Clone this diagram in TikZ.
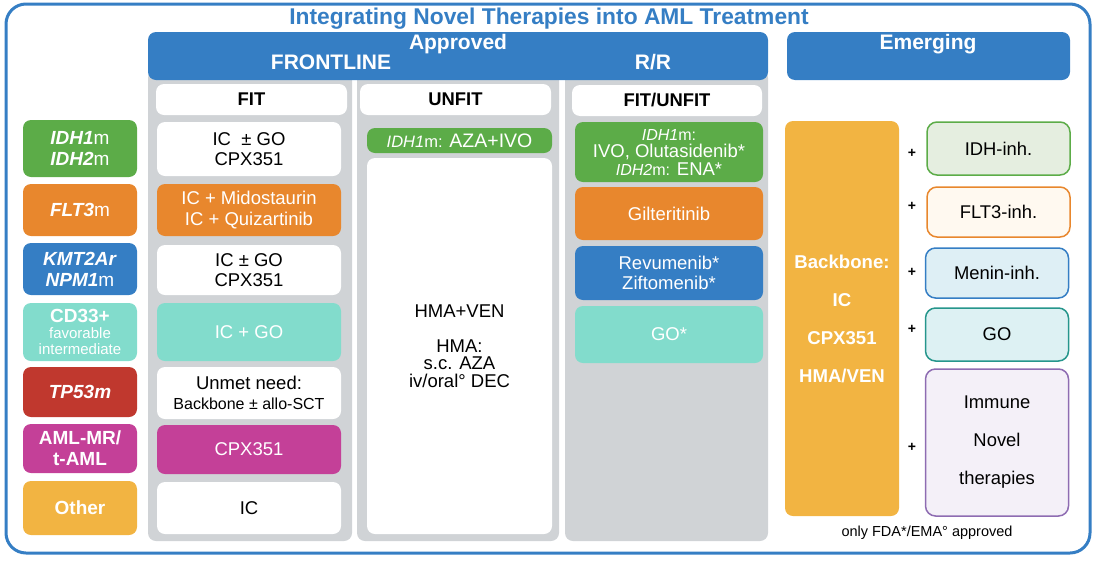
\documentclass[tikz,border=0pt]{standalone}
\usepackage{fontspec}
\setmainfont{Liberation Sans}
\definecolor{amlblue}{RGB}{53,126,196}
\definecolor{amlgreen}{RGB}{92,172,72}
\definecolor{amlorange}{RGB}{232,135,45}
\definecolor{amlteal}{RGB}{130,220,204}
\definecolor{amlred}{RGB}{192,56,46}
\definecolor{amlmagenta}{RGB}{196,64,152}
\definecolor{amlyellow}{RGB}{242,180,66}
\definecolor{amlgray}{RGB}{208,211,214}
\definecolor{amlpurple}{RGB}{142,108,178}
\definecolor{amldarkteal}{RGB}{38,150,140}
\usetikzlibrary{positioning}

\begin{document}
\begin{tikzpicture}[x=1pt, y=-1pt,
  tag/.style={rounded corners=8pt, minimum width=114pt, inner sep=0pt, align=center, text=white, font=\fontsize{19}{21}\selectfont\bfseries},
  cell/.style={rounded corners=8pt, minimum width=#1, inner sep=0pt, align=center, font=\fontsize{18.5}{20.5}\selectfont},
  col/.style={fill=amlgray, rounded corners=8pt, minimum height=471pt, inner sep=0pt},
  bar/.style={fill=amlblue, rounded corners=8pt, minimum height=48pt, inner sep=0pt},
  sub/.style={fill=white, rounded corners=8pt, minimum height=31pt, inner sep=0pt, font=\fontsize{18.4}{20}\selectfont\bfseries},
  hdr/.style={text=white, font=\fontsize{21}{23}\selectfont\bfseries},
  addon/.style={draw, line width=1.5pt, rounded corners=10pt, minimum width=143pt, inner sep=0pt, align=center, font=\fontsize{18.4}{38}\selectfont},
  plus/.style={font=\fontsize{14}{14}\selectfont\bfseries},
]
  \useasboundingbox (0,0) rectangle (1100,560);
  \draw[amlblue, line width=3pt, rounded corners=20pt] (6,4) rectangle (1090,553);
  \node[text=amlblue, font=\fontsize{22.8}{24}\selectfont\bfseries] (title) at (549,18.5) {Integrating Novel Therapies into AML Treatment};

  % gray columns under the header
  \node[col, minimum width=204pt] (colfit) at (250,305.5) {};
  \node[col, minimum width=202pt] (colunfit) at (458,305.5) {};
  \node[col, minimum width=203pt] (colrr) at (666.5,305.5) {};

  % headers
  \node[bar, minimum width=620pt] (approved) at (458,56) {};
  \node[bar, minimum width=283pt] (emerging) at (928.5,56) {};
  \node[hdr] (approvedtxt) at (458,44.5) {Approved};
  \node[hdr] (frontline) at (331,62) {FRONTLINE};
  \node[hdr] (rr) at (653,62) {R/R};
  \node[hdr] (emergingtxt) at (928,44.5) {Emerging};

  \node[sub, minimum width=191pt] (fit) at (251.5,99.5) {FIT};
  \node[sub, minimum width=191pt] (unfit) at (455.5,99.5) {UNFIT};
  \node[sub, minimum width=190pt] (fitunfit) at (667,100.5) {FIT/UNFIT};

  % genetic subgroups
  \node[tag, fill=amlgreen, minimum height=57pt] (idh) at (80,148.5) {\textit{IDH1}\mdseries m\\\bfseries\textit{IDH2}\mdseries m};
  \node[tag, fill=amlorange, minimum height=52pt] (flt) at (80,210) {\textit{FLT3}\mdseries m};
  \node[tag, fill=amlblue, minimum height=52pt] (kmt) at (80,269) {\textit{KMT2Ar}\\\textit{NPM1}\mdseries m};
  \node[tag, fill=amlteal, minimum height=58pt] (cd) at (80,332) {CD33+\\[-5pt]{\mdseries\fontsize{15}{16}\selectfont favorable}\\[-5pt]{\mdseries\fontsize{15}{16}\selectfont intermediate}};
  \node[tag, fill=amlred, minimum height=50pt] (tp) at (80,392) {\textit{TP53m}};
  \node[tag, fill=amlmagenta, minimum height=49pt] (mr) at (80,448.5) {AML-MR/\\t-AML};
  \node[tag, fill=amlyellow, minimum height=54pt] (other) at (80,508) {Other};

  % frontline fit
  \node[cell=184pt, fill=white, minimum height=54pt] (fit1) at (249,149) {IC\ \ ± GO\\CPX351};
  \node[cell=184pt, fill=amlorange, text=white, minimum height=52pt] (fit2) at (249,210) {IC + Midostaurin\\IC + Quizartinib};
  \node[cell=184pt, fill=white, minimum height=50pt] (fit3) at (249,270) {IC ± GO\\CPX351};
  \node[cell=184pt, fill=amlteal, text=white, minimum height=58pt] (fit4) at (249,332) {IC + GO};
  \node[cell=184pt, fill=white, minimum height=52pt] (fit5) at (249,393) {Unmet need:\\\fontsize{16}{17}\selectfont Backbone ± allo-SCT};
  \node[cell=184pt, fill=amlmagenta, text=white, minimum height=49pt] (fit6) at (249,449.5) {CPX351};
  \node[cell=184pt, fill=white, minimum height=52pt] (fit7) at (249,508) {IC};

  % frontline unfit
  \node[cell=185pt, fill=amlgreen, text=white, minimum height=25pt] (unfit1) at (459.5,140.5) {{\fontsize{16.5}{18}\selectfont\textit{IDH1}m:} \fontsize{19.5}{20}\selectfont AZA+IVO};
  \node[cell=185pt, fill=white, minimum height=376pt] (unfit2) at (459.5,346) {HMA+VEN\\[14pt]HMA:\\[-3pt]s.c. AZA\\[-3pt]iv/oral° DEC};

  % relapsed / refractory
  \node[cell=188pt, fill=amlgreen, text=white, minimum height=60pt] (rr1) at (669,152) {{\fontsize{16}{17}\selectfont\textit{IDH1}m:}\\[-3pt]IVO, Olutasidenib*\\[-3pt]{\fontsize{16}{17}\selectfont\textit{IDH2}m:} ENA*};
  \node[cell=188pt, fill=amlorange, text=white, minimum height=53pt] (rr2) at (669,213.5) {Gilteritinib};
  \node[cell=188pt, fill=amlblue, text=white, minimum height=54pt] (rr3) at (669,273) {Revumenib*\\Ziftomenib*};
  \node[cell=188pt, fill=amlteal, text=white, minimum height=57pt] (rr4) at (669,334.5) {GO*};

  % emerging
  \node[tag, fill=amlyellow, minimum height=395pt, font=\fontsize{18.6}{38}\selectfont\bfseries] (backbone) at (842,318.5) {Backbone:\\IC\\CPX351\\HMA/VEN};
  \node[addon, draw=amlgreen, fill={rgb,255:red,229;green,238;blue,224}, minimum height=53pt] (idhinh) at (998.5,148.5) {IDH-inh.};
  \node[addon, draw=amlorange, fill={rgb,255:red,255;green,249;blue,240}, minimum height=50pt] (fltinh) at (998.5,212) {FLT3-inh.};
  \node[addon, draw=amlblue, fill={rgb,255:red,222;green,239;blue,245}, minimum height=50pt] (menin) at (997,273) {Menin-inh.};
  \node[addon, draw=amldarkteal, fill={rgb,255:red,221;green,241;blue,243}, minimum height=53pt] (goinh) at (997,334.5) {GO};
  \node[addon, draw=amlpurple, fill={rgb,255:red,244;green,240;blue,248}, minimum height=147pt] (immune) at (997,442.5) {Immune\\Novel\\therapies};
  \node[plus] (p1) at (912,153) {+};
  \node[plus] (p2) at (912,206) {+};
  \node[plus] (p3) at (912,272) {+};
  \node[plus] (p4) at (912,329) {+};
  \node[plus] (p5) at (912,447) {+};
  \node[font=\fontsize{14.5}{16}\selectfont] (note) at (927,533) {only FDA*/EMA° approved};
\end{tikzpicture}
\end{document}
